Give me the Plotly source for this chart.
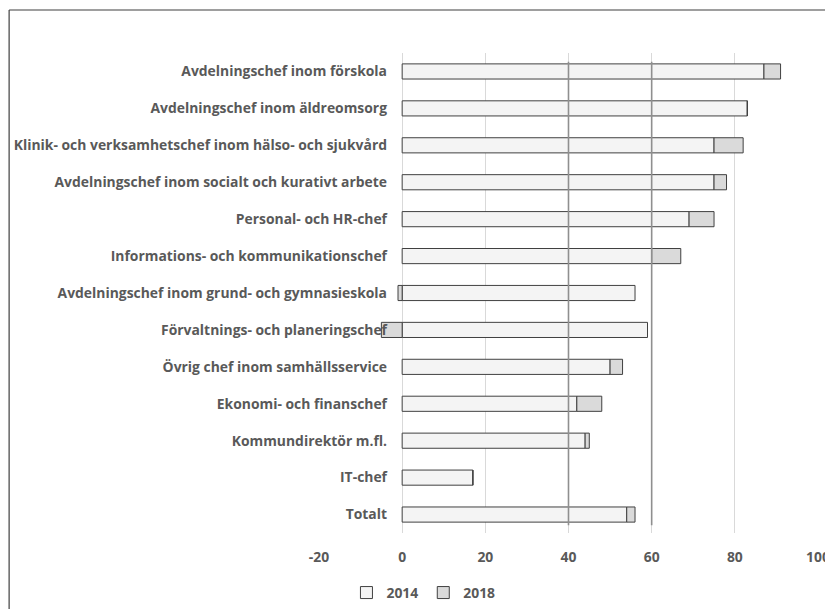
import plotly.graph_objects as go

categories = [
    "Avdelningschef inom förskola",
    "Avdelningschef inom äldreomsorg",
    "Klinik- och verksamhetschef inom hälso- och sjukvård",
    "Avdelningschef inom socialt och kurativt arbete",
    "Personal- och HR-chef",
    "Informations- och kommunikationschef",
    "Avdelningschef inom grund- och gymnasieskola",
    "Förvaltnings- och planeringschef",
    "Övrig chef inom samhällsservice",
    "Ekonomi- och finanschef",
    "Kommundirektör m.fl.",
    "IT-chef",
    "Totalt",
]
values_2014 = [87, 83, 75, 75, 69, 60, 56, 59, 50, 42, 44, 17, 54]
change_2018 = [4, 0, 7, 3, 6, 7, -1, -5, 3, 6, 1, 0, 2]
x_ticks = [-20, 0, 20, 40, 60, 80, 100]
x_tick_labels = ["-20", "0", "20", "40", "60", "80", "100"]
ref_lines = [40, 60]

TXT = "#595959"
FONT = "Open Sans"
FS = 13.9

fig = go.Figure()
fig.add_trace(go.Bar(
    y=categories, x=values_2014, orientation="h", name="2014",
    marker=dict(color="#f4f4f4", line=dict(color="#404040", width=1)),
))
fig.add_trace(go.Bar(
    y=categories, x=change_2018, orientation="h", name="2018",
    marker=dict(color="#dadada", line=dict(color="#404040", width=1)),
))

for v in ref_lines:
    fig.add_shape(type="line", xref="x", yref="y", x0=v, x1=v, y0=-0.26, y1=12.29,
                  line=dict(color="#8f8f8f", width=1.6), layer="above")

# outer chart frame (top and left edges visible)
fig.add_shape(type="line", xref="paper", yref="paper", x0=-0.621, x1=1.5, y0=1.0896, y1=1.0896,
              line=dict(color="#3f3f3f", width=1.2))
fig.add_shape(type="line", xref="paper", yref="paper", x0=-0.621, x1=-0.621, y0=-0.5, y1=1.0896,
              line=dict(color="#3f3f3f", width=1.2))

fig.update_layout(
    width=825, height=601,
    barmode="relative", bargap=0.59,
    plot_bgcolor="white", paper_bgcolor="white",
    margin=dict(l=311, r=15, t=45, b=76),
    font=dict(family=FONT, size=FS, color=TXT, weight="bold"),
    xaxis=dict(range=[-20, 100], tickvals=x_ticks, ticktext=x_tick_labels, showgrid=True,
               gridcolor="#d9d9d9", gridwidth=1, zeroline=False, showline=False, ticks="",
               automargin=False, ticklabelstandoff=14,
               tickfont=dict(family=FONT, size=FS, color=TXT, weight="bold")),
    yaxis=dict(categoryorder="array", categoryarray=categories, range=[12.5, -0.5],
               anchor="free", position=(402 - 319) / 499, showgrid=False, zeroline=False,
               showline=False, ticks="", automargin=False, ticklabelstandoff=15,
               tickfont=dict(family=FONT, size=FS, color=TXT, weight="bold")),
    legend=dict(orientation="h", xref="paper", x=0.055, xanchor="left",
                yref="container", y=0.0532, yanchor="top",
                font=dict(family=FONT, size=FS, color=TXT, weight="bold"),
                itemwidth=30, bgcolor="rgba(0,0,0,0)"),
)

fig.write_html("out.html")
